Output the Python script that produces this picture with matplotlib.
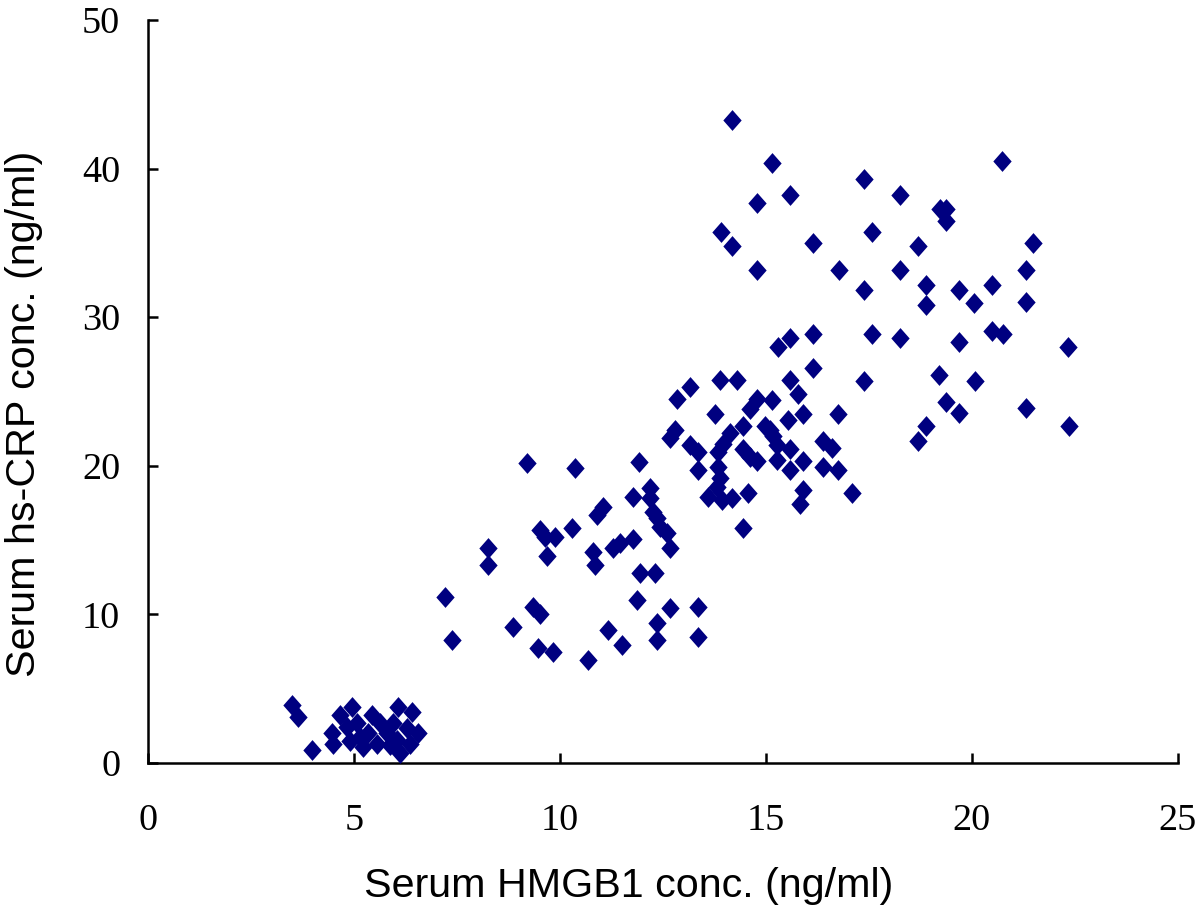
import matplotlib
matplotlib.use('Agg')
import matplotlib.pyplot as plt

# Serum HMGB1 (x) vs serum hs-CRP (y)
hmgb1_low = [3.49, 3.65, 3.97, 4.66, 4.47, 4.50, 4.95, 4.83, 5.07, 4.90, 5.15, 5.44, 5.34,
             5.56, 5.63, 5.80, 6.07, 5.95, 6.40, 6.29, 6.55, 6.12, 6.04, 6.36, 5.22, 5.87]
crp_low = [3.9, 3.1, 0.9, 3.2, 2.0, 1.3, 3.8, 2.4, 2.7, 1.5, 1.75, 3.2, 2.0,
           1.3, 2.7, 2.0, 3.8, 2.7, 3.4, 2.35, 2.0, 0.7, 1.55, 1.3, 1.1, 1.2]

hmgb1_mid = [7.21, 7.38, 8.25, 8.25, 8.86, 9.19, 9.35, 9.51, 9.47, 9.83, 9.51, 9.64, 9.88,
             9.68, 10.30, 10.36, 10.68, 10.80, 10.85, 10.89, 11.05, 11.17, 11.29, 11.46,
             11.50, 11.77, 11.77, 11.87, 11.92, 11.94, 12.18, 12.18, 12.26, 12.30, 12.35,
             12.35, 12.35, 12.43, 12.60, 12.67, 12.67, 13.35, 13.35]
crp_mid = [11.2, 8.3, 14.5, 13.3, 9.15, 20.2, 10.5, 10.0, 7.75, 7.45, 15.7, 15.2, 15.2,
           13.9, 15.8, 19.85, 6.9, 14.2, 13.3, 16.7, 17.2, 8.95, 14.5, 14.8,
           7.95, 15.1, 17.9, 10.97, 20.25, 12.8, 18.5, 17.8, 16.9, 12.8, 16.5,
           9.4, 8.3, 15.9, 15.5, 14.5, 10.4, 10.5, 8.5]

hmgb1_dense = [12.67, 12.80, 12.84, 13.16, 13.16, 13.35, 13.35, 13.60, 13.76, 13.83, 13.96,
               14.13, 13.83, 13.88, 13.80, 13.93, 14.17, 13.88, 14.30, 14.44, 14.61, 14.78,
               15.15, 14.44, 14.61, 14.78, 14.56, 14.44, 14.98, 15.10, 15.17, 15.27, 15.27,
               15.58, 15.58, 15.90, 15.53, 15.90, 15.58, 15.78, 15.90, 15.82, 16.14, 16.38,
               16.60, 16.38, 16.75, 16.75, 17.09, 17.38, 15.29, 15.58, 16.14, 17.57]
crp_dense = [21.9, 22.4, 24.5, 25.3, 21.4, 20.9, 19.7, 17.9, 23.5, 20.9, 21.5,
             22.2, 19.9, 19.2, 18.6, 17.7, 17.8, 25.8, 25.8, 22.7, 23.8, 24.5,
             24.4, 21.1, 20.6, 20.3, 18.2, 15.8, 22.7, 22.4, 22.0, 21.4, 20.4,
             21.1, 19.7, 20.3, 23.1, 23.5, 25.8, 24.8, 18.4, 17.4, 26.6, 21.7,
             21.2, 19.9, 19.7, 23.5, 18.2, 25.7, 28.0, 28.6, 28.9, 28.9]

hmgb1_high = [14.17, 15.15, 20.74, 17.38, 18.25, 15.58, 14.78, 19.22, 19.38, 19.38, 13.90,
              14.17, 16.14, 17.57, 18.69, 21.48, 14.78, 16.77, 18.25, 21.30, 17.38, 18.88,
              18.88, 19.68, 20.49, 20.05, 21.30, 18.25, 20.49, 20.75, 19.68, 22.33,
              19.20, 20.07, 19.38, 19.68, 21.30, 22.35, 18.88, 18.69]
crp_high = [43.3, 40.4, 40.5, 39.3, 38.2, 38.2, 37.7, 37.3, 37.3, 36.5, 35.7,
            34.8, 35.0, 35.7, 34.8, 35.0, 33.2, 33.2, 33.2, 33.2, 31.8, 32.2,
            30.8, 31.8, 32.2, 30.96, 31.0, 28.6, 29.1, 28.9, 28.3, 28.0,
            26.1, 25.7, 24.3, 23.55, 23.9, 22.7, 22.7, 21.7]

hmgb1 = hmgb1_low + hmgb1_mid + hmgb1_dense + hmgb1_high
crp = crp_low + crp_mid + crp_dense + crp_high

x_ticks = [0, 5, 10, 15, 20, 25]
y_ticks = [0, 10, 20, 30, 40, 50]

fig = plt.figure(figsize=(12, 9.15), dpi=100)
ax = fig.add_axes([148/1200, 1 - 763/915, 1030/1200, 743/915])

diamond = [(0, 1), (0.88, 0), (0, -1), (-0.88, 0), (0, 1)]
ax.plot(hmgb1, crp, linestyle='none', marker=diamond, markersize=15,
        color='#000080', markeredgewidth=0, clip_on=False, zorder=3)

ax.set_xlim(0, 25)
ax.set_ylim(0, 50)
ax.set_xticks(x_ticks)
ax.set_yticks(y_ticks)
ax.set_xticklabels([str(v) for v in x_ticks], family='Liberation Serif', fontsize=27.5)
ax.set_yticklabels([str(v) for v in y_ticks], family='Liberation Serif', fontsize=27.5)
ax.tick_params(axis='x', direction='in', length=7, width=1.8, pad=29)
ax.tick_params(axis='y', direction='in', length=7, width=1.8, pad=20)

ax.spines['top'].set_visible(False)
ax.spines['right'].set_visible(False)
ax.spines['left'].set_linewidth(1.8)
ax.spines['bottom'].set_linewidth(1.8)

ax.set_xlabel('Serum HMGB1 conc. (ng/ml)', family='Liberation Sans', fontsize=29.7)
ax.set_ylabel('Serum hs-CRP conc. (ng/ml)', family='Liberation Sans', fontsize=29.7)
ax.xaxis.set_label_coords(0.467, -0.14)
ax.yaxis.set_label_coords(-0.102, 0.47)

fig.savefig('out.png', dpi=100, facecolor='white')
